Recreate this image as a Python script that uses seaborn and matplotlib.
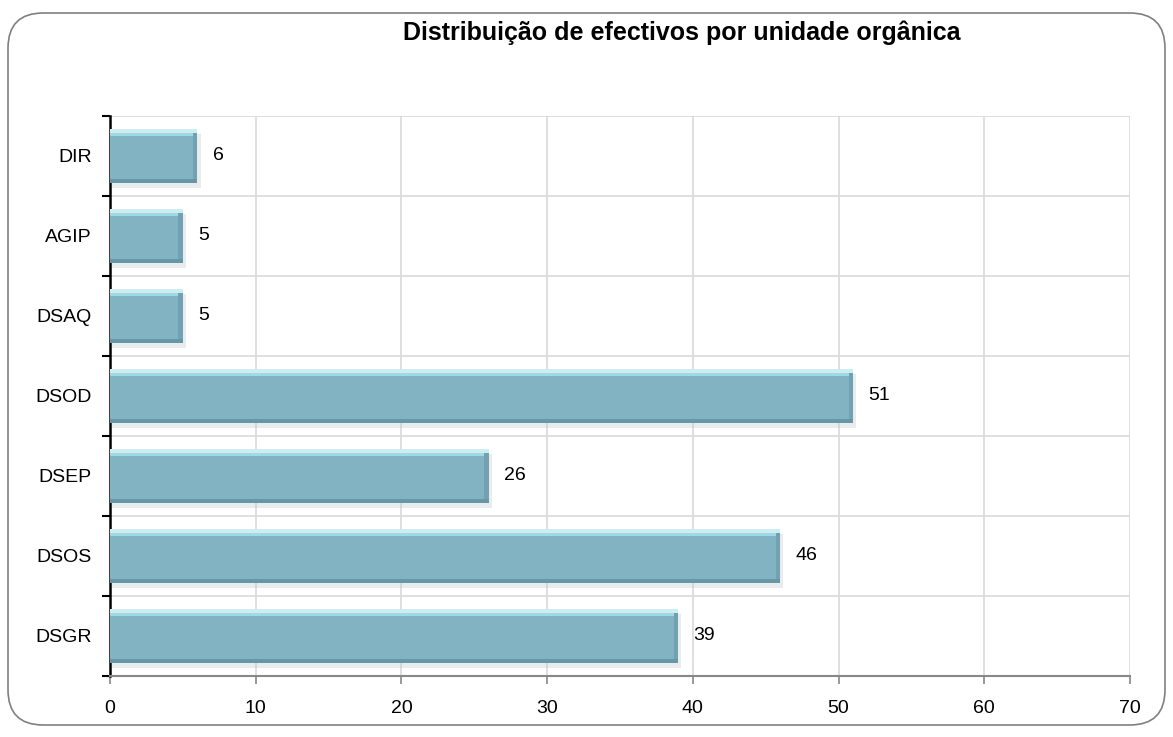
import matplotlib
matplotlib.use("Agg")
import matplotlib.pyplot as plt
from matplotlib.patches import FancyBboxPatch, Rectangle
import seaborn as sns
import pandas as pd

# Headcount per organisational unit
units = ["DIR", "AGIP", "DSAQ", "DSOD", "DSEP", "DSOS", "DSGR"]
staff = [6, 5, 5, 51, 26, 46, 39]
x_ticks = [0, 10, 20, 30, 40, 50, 60, 70]

sns.set_theme(style="white")
plt.rcParams["font.family"] = ["Liberation Sans", "DejaVu Sans"]
plt.rcParams["text.color"] = "black"
plt.rcParams["xtick.color"] = "black"
plt.rcParams["ytick.color"] = "black"

df = pd.DataFrame({"unit": units, "staff": staff})

fig = plt.figure(figsize=(11.73, 7.37), dpi=100)
ax = fig.add_axes([110 / 1173, 1 - 676 / 737, 1020 / 1173, 560 / 737])

bar_color = "#81b3c3"
sns.barplot(data=df, y="unit", x="staff", orient="h", color=bar_color,
            width=0.67, saturation=1, ax=ax, zorder=3, edgecolor="none")

# Bevel and soft shadow for each bar
for p in list(ax.patches):
    x0, y0 = p.get_x(), p.get_y()
    w, h = p.get_width(), p.get_height()
    ax.add_patch(Rectangle((x0 + 0.12, y0 + 0.06), w + 0.1, h, color="#c0c8cb",
                           alpha=0.35, zorder=2, lw=0))
    ax.add_patch(Rectangle((x0, y0), w, h * 0.08, color="#c6f0f8",
                           zorder=4, lw=0))
    ax.add_patch(Rectangle((x0, y0 + h * 0.08), w, h * 0.05, color="#a6d6e2",
                           zorder=4, lw=0))
    ax.add_patch(Rectangle((x0, y0 + h * 0.92), w, h * 0.08, color="#6a95a3",
                           zorder=4, lw=0))
    ax.add_patch(Rectangle((x0 + w - 0.3, y0 + h * 0.08), 0.3, h * 0.84,
                           color="#72a2b1", zorder=4, lw=0))

for i, v in enumerate(staff):
    ax.annotate(str(v), xy=(v, i), xytext=(11, 0), textcoords="offset points",
                va="center", ha="left", fontsize=14, color="black")

ax.set_xlim(0, 70)
ax.set_ylim(len(units) - 0.5, -0.5)
ax.set_xticks(x_ticks)
ax.set_yticks([i - 0.5 for i in range(len(units) + 1)], minor=True)
ax.set_xlabel("")
ax.set_ylabel("")
ax.tick_params(axis="y", which="major", length=0, labelsize=14, pad=13,
               labelcolor="black")
ax.tick_params(axis="y", which="minor", length=6, width=1.5, color="black",
               direction="out", left=True)
ax.tick_params(axis="x", length=6, width=1.2, color="#888888", direction="out",
               bottom=True, labelsize=14, pad=11, labelcolor="black")

ax.grid(True, axis="x", color="#d9d9d9", lw=1.2, zorder=0)
ax.grid(True, axis="y", which="minor", color="#d9d9d9", lw=1.2, zorder=0)
ax.grid(False, axis="y", which="major")
ax.set_axisbelow(True)

for s in ["top", "right"]:
    ax.spines[s].set_visible(False)
ax.spines["left"].set_color("black")
ax.spines["left"].set_linewidth(1.8)
ax.spines["bottom"].set_color("#888888")
ax.spines["bottom"].set_linewidth(1.5)

fig.text(682 / 1173, 1 - 33 / 737, "Distribuição de efectivos por unidade orgânica",
         ha="center", va="center", fontsize=18, fontweight="bold", color="black")

frame = FancyBboxPatch((8 / 1173, 12 / 737), 1157 / 1173, 712 / 737,
                       boxstyle="round,pad=0,rounding_size=0.03",
                       transform=fig.transFigure, fill=False,
                       edgecolor="#808080", lw=1.2, mutation_aspect=1173 / 737)
fig.patches.append(frame)

fig.savefig("out.png", dpi=100)
